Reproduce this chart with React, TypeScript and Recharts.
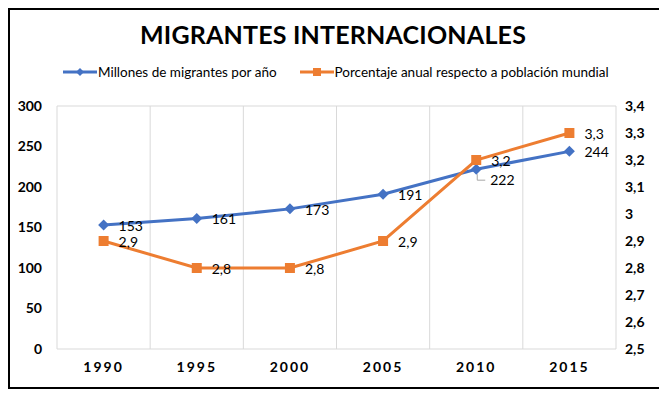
import { LineChart, Line, XAxis, YAxis, CartesianGrid, LabelList } from 'recharts'

const years = ['1990', '1995', '2000', '2005', '2010', '2015']
const migrantes = [153, 161, 173, 191, 222, 244]
const porcentaje = [2.9, 2.8, 2.8, 2.9, 3.2, 3.3]
const leftTicks = [0, 50, 100, 150, 200, 250, 300]
const rightTicks = [2.5, 2.6, 2.7, 2.8, 2.9, 3.0, 3.1, 3.2, 3.3, 3.4]

const BLUE = '#4472C4'
const ORANGE = '#ED7D31'
const FONT = 'Lato, "Open Sans", sans-serif'

const data = years.map((year, i) => ({
  year,
  migrantes: migrantes[i],
  porcentaje: porcentaje[i],
}))

const comma = (v: number) => String(v).replace('.', ',')

function Diamond(props: any) {
  const { cx, cy } = props
  if (cx == null || cy == null) return null
  return (
    <path
      d={`M${cx},${cy - 5.5} L${cx + 5.5},${cy} L${cx},${cy + 5.5} L${cx - 5.5},${cy} Z`}
      fill={BLUE}
    />
  )
}

function Square(props: any) {
  const { cx, cy } = props
  if (cx == null || cy == null) return null
  return <rect x={cx - 5} y={cy - 5} width={10} height={10} fill={ORANGE} />
}

function BlueLabel(props: any) {
  const { x, y, value, index } = props
  if (index === 4) {
    // 2010 label sits below-right with a small leader line
    return (
      <g>
        <polyline
          points={`${x + 1},${y + 5} ${x + 1},${y + 11} ${x + 9},${y + 11}`}
          fill="none"
          stroke="#a6a6a6"
          strokeWidth={1}
        />
        <text x={x + 14} y={y + 11} dy="0.35em" fontSize={14} fontFamily={FONT} fill="#000">
          {value}
        </text>
      </g>
    )
  }
  return (
    <text x={x + 15} y={y + 1} dy="0.35em" fontSize={14} fontFamily={FONT} fill="#000">
      {value}
    </text>
  )
}

function OrangeLabel(props: any) {
  const { x, y, value } = props
  return (
    <text x={x + 15} y={y + 1} dy="0.35em" fontSize={14} fontFamily={FONT} fill="#000">
      {comma(value)}
    </text>
  )
}

function LegendIcon({ color, square }: { color: string; square?: boolean }) {
  return (
    <svg width={34} height={10} style={{ display: 'block' }}>
      <line x1={0} y1={5} x2={34} y2={5} stroke={color} strokeWidth={3} />
      {square ? (
        <rect x={13} y={1} width={8} height={8} fill={color} />
      ) : (
        <path d="M17,1 L21,5 L17,9 L13,5 Z" fill={color} />
      )}
    </svg>
  )
}

export default function App() {
  const tickStyle = { fontSize: 14, fontWeight: 700, fill: '#000', fontFamily: FONT }
  return (
    <div
      style={{
        position: 'relative',
        width: 652,
        height: 377,
        border: '2px solid #000',
        fontFamily: FONT,
      }}
    >
      <div
        style={{
          position: 'absolute',
          top: 9,
          left: -3,
          width: 652,
          textAlign: 'center',
          fontSize: 25,
          fontWeight: 700,
          letterSpacing: 0.2,
          lineHeight: '30px',
          color: '#000',
        }}
      >
        MIGRANTES INTERNACIONALES
      </div>
      <div
        style={{
          position: 'absolute',
          top: 54,
          left: 53,
          display: 'flex',
          alignItems: 'center',
          fontSize: 13.5,
          color: '#000',
          whiteSpace: 'nowrap',
        }}
      >
        <LegendIcon color={BLUE} />
        <span style={{ marginLeft: 1 }}>Millones de migrantes por año</span>
        <span style={{ width: 23 }} />
        <LegendIcon color={ORANGE} square />
        <span style={{ marginLeft: 1 }}>Porcentaje anual respecto a población mundial</span>
      </div>
      <LineChart
        width={652}
        height={377}
        data={data}
        margin={{ top: 96, right: 0, bottom: 0, left: 0 }}
      >
        <CartesianGrid
          stroke="#d9d9d9"
          strokeWidth={1}
          verticalCoordinatesGenerator={({ offset }: any) =>
            [0, 1, 2, 3, 4, 5, 6].map((i) => offset.left + (i * offset.width) / 6)
          }
          horizontalCoordinatesGenerator={({ offset }: any) => [offset.top, offset.top + offset.height]}
        />
        <XAxis
          dataKey="year"
          height={38}
          padding={{ left: 46.6, right: 46.6 }}
          axisLine={false}
          tickLine={false}
          tickSize={0}
          tickMargin={13}
          tick={{ ...tickStyle, letterSpacing: 2 }}
        />
        <YAxis
          yAxisId="left"
          width={47}
          domain={[0, 300]}
          ticks={leftTicks}
          axisLine={false}
          tickLine={false}
          tickSize={0}
          tickMargin={15}
          tick={tickStyle}
        />
        <YAxis
          yAxisId="right"
          orientation="right"
          width={46}
          domain={[2.5, 3.4]}
          ticks={rightTicks}
          allowDataOverflow
          axisLine={false}
          tickLine={false}
          tickSize={0}
          tickMargin={9}
          tick={{ ...tickStyle, textAnchor: 'start' }}
          tickFormatter={comma}
        />
        <Line
          yAxisId="left"
          dataKey="migrantes"
          name="Millones de migrantes por año"
          stroke={BLUE}
          strokeWidth={3}
          dot={<Diamond />}
          activeDot={false}
          isAnimationActive={false}
        >
          <LabelList dataKey="migrantes" content={<BlueLabel />} />
        </Line>
        <Line
          yAxisId="right"
          dataKey="porcentaje"
          name="Porcentaje anual respecto a población mundial"
          stroke={ORANGE}
          strokeWidth={3}
          dot={<Square />}
          activeDot={false}
          isAnimationActive={false}
        >
          <LabelList dataKey="porcentaje" content={<OrangeLabel />} />
        </Line>
      </LineChart>
    </div>
  )
}
